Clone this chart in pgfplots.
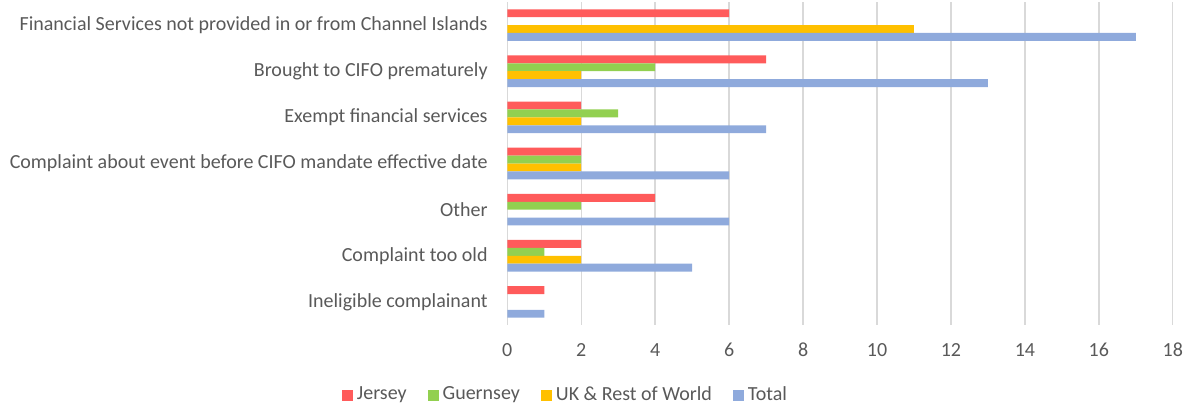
\documentclass[border=0pt]{standalone}
\usepackage{pgfplots}
\pgfplotsset{compat=1.18}
\usepackage{fontspec}
\setmainfont{Carlito}
\definecolor{cjersey}{HTML}{FF5B5B}
\definecolor{cguern}{HTML}{92D050}
\definecolor{cuk}{HTML}{FFC000}
\definecolor{ctotal}{HTML}{8FAADC}
\definecolor{ctext}{HTML}{595959}
\definecolor{cgrid}{HTML}{D9D9D9}
\begin{document}
\fontsize{20}{23}\selectfont
\begin{tikzpicture}
\useasboundingbox (-507.3pt,-83pt) rectangle (681.7pt,325pt);
\begin{axis}[
  scale only axis,
  width=665.5pt, height=323pt,
  xbar=0pt, bar width=7.9pt,
  xmin=0, xmax=18,
  ymin=-0.5, ymax=6.5,
  y dir=reverse,
  xtick={0,2,...,18},
  ytick={0,...,6},
  yticklabels={Financial Services not provided in or from Channel Islands,
    Brought to CIFO prematurely, Exempt financial services,
    Complaint about event before CIFO mandate effective date,
    Other, Complaint too old, Ineligible complainant},
  /pgf/number format/assume math mode=true,
  xmajorgrids,
  grid style={cgrid, line width=1.4pt},
  axis line style={draw=none},
  major tick length=0pt,
  tick style={draw=none},
  ticklabel style={text=ctext, font=\fontsize{20}{23}\selectfont},
  yticklabel style={inner sep=0pt, xshift=-19.5pt},
  xticklabel style={anchor=center, inner sep=0pt, yshift=-25pt},
  legend columns=-1,
  legend style={draw=none, fill=none, at={(0.0867,-0.2167)}, anchor=center,
    font=\fontsize{20}{23}\selectfont, text=ctext,
    nodes={inner sep=1pt},
    /tikz/every odd column/.append style={column sep=3pt},
    /tikz/every even column/.append style={column sep=20pt}},
  legend image code/.code={\fill[#1] (0pt,-5.5pt) rectangle (11pt,5.5pt);},
]
\addplot[fill=cjersey, draw=none, bar shift=11.85pt] coordinates {(6,0) (7,1) (2,2) (2,3) (4,4) (2,5) (1,6)};
\addplot[fill=cguern, draw=none, bar shift=3.95pt] coordinates {(4,1) (3,2) (2,3) (2,4) (1,5)};
\addplot[fill=cuk, draw=none, bar shift=-3.95pt] coordinates {(11,0) (2,1) (2,2) (2,3) (2,5)};
\addplot[fill=ctotal, draw=none, bar shift=-11.85pt] coordinates {(17,0) (13,1) (7,2) (6,3) (6,4) (5,5) (1,6)};
\legend{Jersey, Guernsey, UK \& Rest of World, Total}
\end{axis}
\end{tikzpicture}
\end{document}
